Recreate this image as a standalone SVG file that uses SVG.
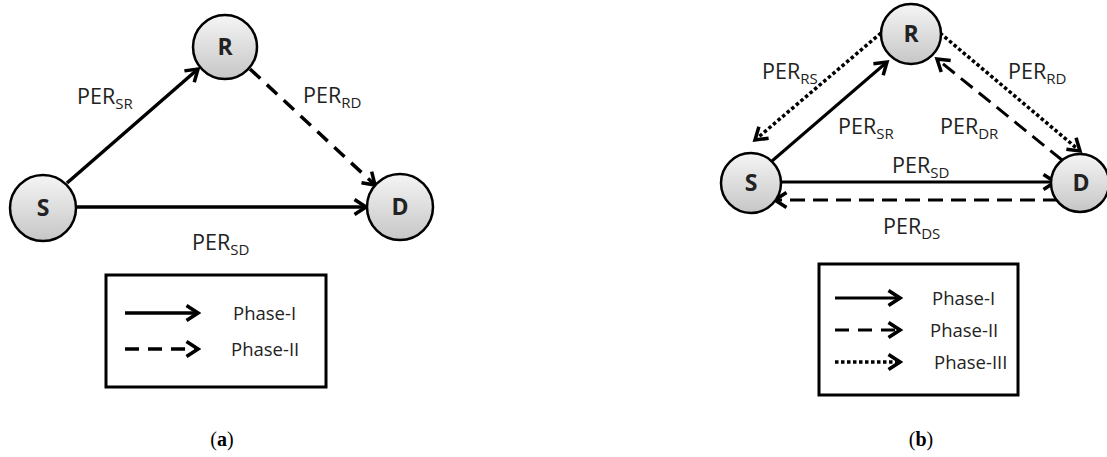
<svg xmlns="http://www.w3.org/2000/svg" width="1107" height="457" viewBox="0 0 1107 457">
<style>
.node circle{fill:url(#g);stroke:#000;stroke-width:2.5}
.node text{font-family:"Open Sans","Liberation Sans",sans-serif;font-weight:bold;font-size:23px;text-anchor:middle;fill:#222}
.lbl{font-family:"Open Sans","Liberation Sans",sans-serif;font-size:21.5px;fill:#222}
.sub{font-size:15px}
.leg{font-family:"Open Sans","Liberation Sans",sans-serif;font-size:18.5px;fill:#222}
.cap{font-family:"Liberation Serif",serif;font-size:20px;fill:#000}
.e{fill:none;stroke:#000;stroke-width:3.5;marker-end:url(#ah)}
.b{stroke-width:3}
.dash{stroke-dasharray:14 9}
.dash2{stroke-dasharray:15 8}
.dot{stroke-width:3.5;stroke-dasharray:3.5 2.5}
.box{fill:#fff;stroke:#000;stroke-width:3}
</style>
<defs>
<linearGradient id="g" x1="0" y1="0" x2="0" y2="1">
<stop offset="0" stop-color="#f5f5f5"/>
<stop offset="1" stop-color="#c6c6c6"/>
</linearGradient>
<marker id="ah" viewBox="0 0 18 18" refX="15" refY="9" markerWidth="18" markerHeight="18" markerUnits="userSpaceOnUse" orient="auto">
<path d="M3.5,1.5 L15,9 L3.5,16.5" fill="none" stroke="#000" stroke-width="3.5" stroke-linejoin="miter"/>
</marker>
</defs>
<rect width="1107" height="457" fill="#fff"/>

<g id="connectors">
<line class="e" x1="67" y1="183" x2="198" y2="69"/>
<line class="e" x1="76" y1="207" x2="366" y2="207"/>
<line class="e dash" x1="250" y1="69" x2="375" y2="185"/>
<line class="e b" x1="772" y1="161" x2="887" y2="62"/>
<line class="e b" x1="781" y1="182" x2="1055" y2="182"/>
<line class="e b dash2" x1="1058" y1="200" x2="775" y2="200"/>
<line class="e b dash2" x1="1062" y1="160" x2="937" y2="59"/>
<line class="e b dot" x1="881" y1="33" x2="755" y2="140"/>
<line class="e b dot" x1="940" y1="33" x2="1080" y2="151"/>
</g>

<g id="node-a-R" class="node"><circle cx="225" cy="47" r="32"/><text x="225" y="55">R</text></g>
<g id="node-a-S" class="node"><circle cx="43" cy="208" r="33"/><text x="43" y="216">S</text></g>
<g id="node-a-D" class="node"><circle cx="400" cy="207" r="33"/><text x="400" y="215">D</text></g>

<g id="node-b-R" class="node"><circle cx="911" cy="34" r="30"/><text x="911" y="42">R</text></g>
<g id="node-b-S" class="node"><circle cx="751" cy="183" r="30"/><text x="751" y="191">S</text></g>
<g id="node-b-D" class="node"><circle cx="1080" cy="183" r="29"/><text x="1081" y="191">D</text></g>

<g id="labels">
<text class="lbl" x="77" y="104">PER<tspan class="sub" dy="5">SR</tspan></text>
<text class="lbl" x="303" y="103">PER<tspan class="sub" dy="5">RD</tspan></text>
<text class="lbl" x="192" y="250">PER<tspan class="sub" dy="5">SD</tspan></text>
<text class="lbl" x="762" y="79">PER<tspan class="sub" dy="5">RS</tspan></text>
<text class="lbl" x="1008" y="79">PER<tspan class="sub" dy="5">RD</tspan></text>
<text class="lbl" x="838" y="134">PER<tspan class="sub" dy="5">SR</tspan></text>
<text class="lbl" x="940" y="134">PER<tspan class="sub" dy="5">DR</tspan></text>
<text class="lbl" x="892" y="173">PER<tspan class="sub" dy="5">SD</tspan></text>
<text class="lbl" x="883" y="234">PER<tspan class="sub" dy="5">DS</tspan></text>
</g>

<g id="legend-a">
<rect class="box" x="106" y="275" width="220" height="112"/>
<line class="e" x1="125" y1="313" x2="198" y2="313"/>
<line class="e dash" x1="125" y1="349" x2="198" y2="349"/>
<text class="leg" x="233" y="320">Phase-I</text>
<text class="leg" x="231" y="356">Phase-II</text>
</g>

<g id="legend-b">
<rect class="box" x="819" y="264" width="199" height="131"/>
<line class="e b" x1="835" y1="298" x2="900" y2="298"/>
<line class="e b dash" x1="835" y1="330" x2="900" y2="330"/>
<line class="e b dot" x1="835" y1="362" x2="900" y2="362"/>
<text class="leg" x="932" y="305">Phase-I</text>
<text class="leg" x="930" y="337">Phase-II</text>
<text class="leg" x="934" y="369">Phase-III</text>
</g>

<text class="cap" x="222" y="446" text-anchor="middle">(<tspan font-weight="bold">a</tspan>)</text>
<text class="cap" x="921" y="446" text-anchor="middle">(<tspan font-weight="bold">b</tspan>)</text>
</svg>
